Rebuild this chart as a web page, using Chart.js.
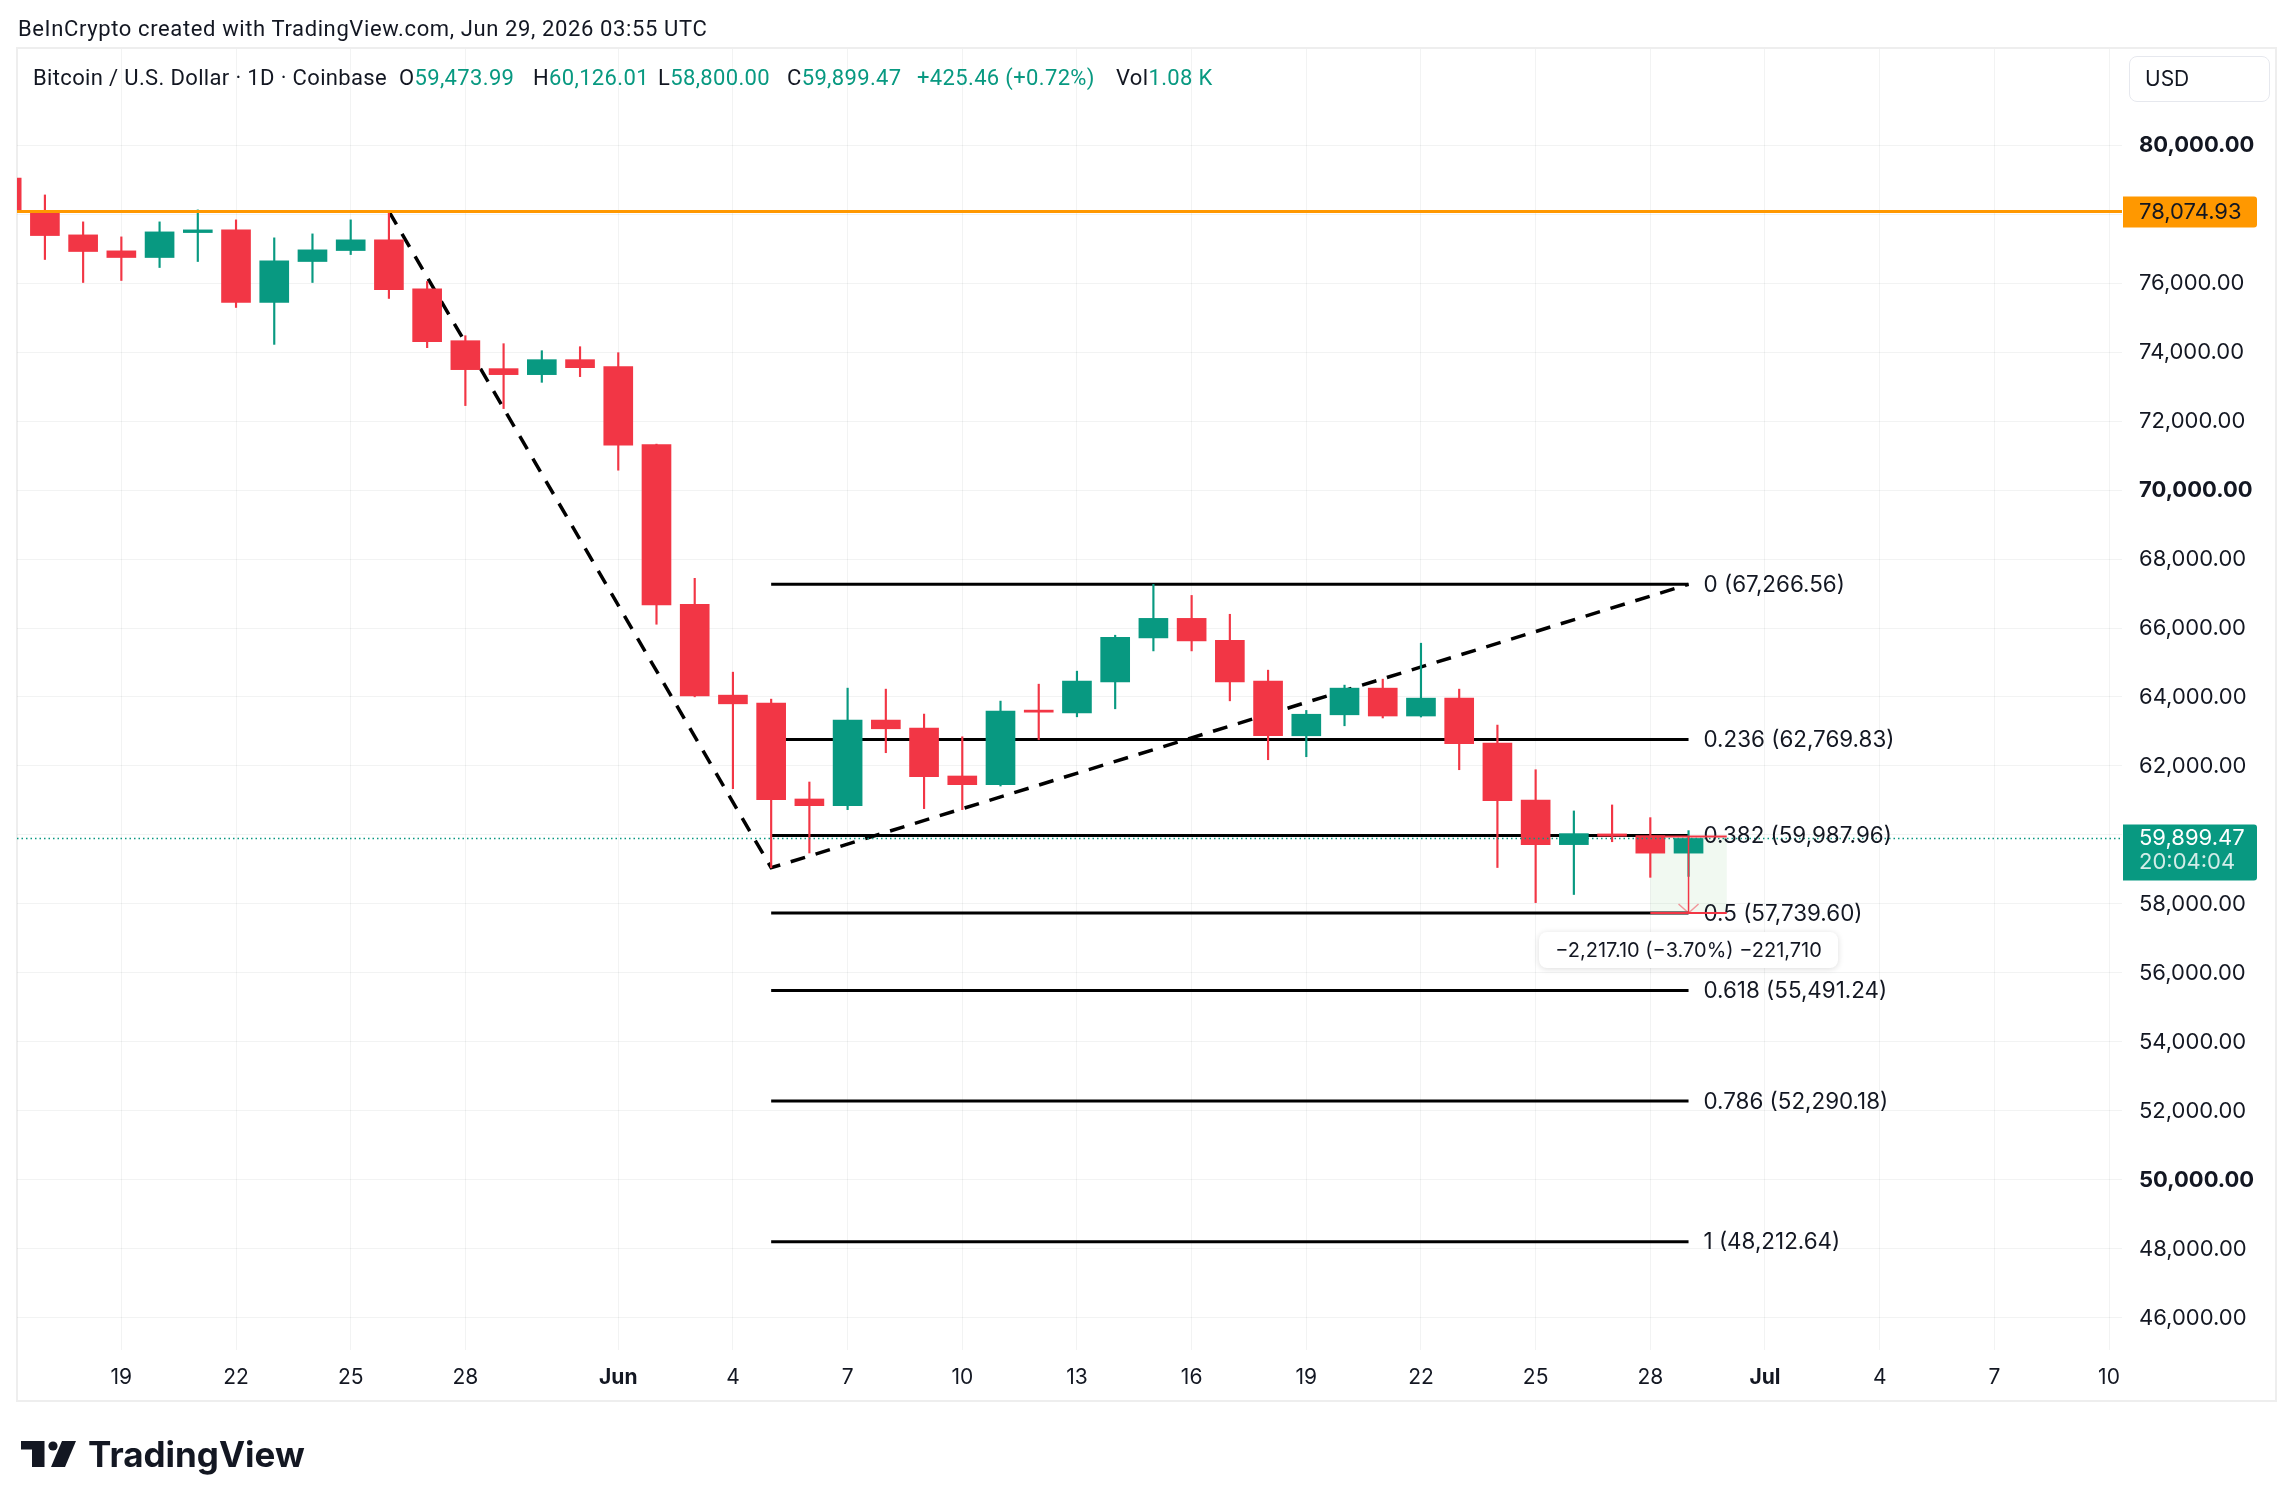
<!DOCTYPE html>
<html>
<head>
<meta charset="utf-8">
<title>Bitcoin / U.S. Dollar · 1D · Coinbase</title>
<script src="https://cdn.jsdelivr.net/npm/chart.js@4.4.1/dist/chart.umd.min.js"></script>
<style>
  html, body { margin: 0; padding: 0; background: #fff; }
  body { position: relative; width: 2294px; height: 1509px; overflow: hidden; color: #131722; font-family: Roboto, sans-serif; }
  #frame { position: absolute; left: 16px; top: 47px; width: 2261px; height: 1355px; box-sizing: border-box; border: 2px solid #eeeeee; }
  #c { position: absolute; left: 0; top: 0; }
  .txt { position: absolute; white-space: pre; font-size: 22px; line-height: 22px; letter-spacing: 0.35px; }
  .head { letter-spacing: 0.62px; }
  .up { color: #089981; }
  #usd { position: absolute; left: 2129px; top: 56px; width: 141px; height: 46px; box-sizing: border-box;
         border: 1px solid #e6e8ee; border-radius: 8px; font: 21px Inter, sans-serif; line-height: 44px; padding-left: 15px; }
  #logo { position: absolute; left: 21px; top: 1441px; }
  #logotext { position: absolute; left: 88px; top: 1437px; font: 700 35px Inter, sans-serif; line-height: 35px; color: #131722; }
</style>
</head>
<body>
<div id="frame"></div>
<canvas id="c" width="2294" height="1509" style="width:2294px;height:1509px"></canvas>

<div class="txt head" style="left:18px;top:18px">BeInCrypto created with TradingView.com, Jun 29, 2026 03:55 UTC</div>
<div class="txt" style="left:33px;top:67px">Bitcoin / U.S. Dollar · 1D · Coinbase</div>
<div class="txt" style="left:399px;top:67px">O<span class="up">59,473.99</span></div>
<div class="txt" style="left:533px;top:67px">H<span class="up">60,126.01</span></div>
<div class="txt" style="left:658px;top:67px">L<span class="up">58,800.00</span></div>
<div class="txt" style="left:787px;top:67px">C<span class="up">59,899.47</span></div>
<div class="txt up" style="left:917px;top:67px">+425.46 (+0.72%)</div>
<div class="txt" style="left:1116px;top:67px">Vol<span class="up">1.08 K</span></div>
<div id="usd">USD</div>

<svg id="logo" width="56" height="27" viewBox="0 0 56 27">
  <path d="M0 0 H23.5 V26 H11 V8.5 H0 Z" fill="#131722"/>
  <circle cx="32" cy="5" r="4.6" fill="#131722"/>
  <path d="M41 0 H55 L44 26 H30 Z" fill="#131722"/>
</svg>
<div id="logotext">TradingView</div>

<script>
// ------------------------------------------------------------
// BTC/USD diario (Coinbase) — velas + Fibonacci + dibujos
// ------------------------------------------------------------

const dates = [
  '2026-05-16', '2026-05-17', '2026-05-18', '2026-05-19', '2026-05-20', '2026-05-21', '2026-05-22',
  '2026-05-23', '2026-05-24', '2026-05-25', '2026-05-26', '2026-05-27', '2026-05-28', '2026-05-29',
  '2026-05-30', '2026-05-31', '2026-06-01', '2026-06-02', '2026-06-03', '2026-06-04', '2026-06-05',
  '2026-06-06', '2026-06-07', '2026-06-08', '2026-06-09', '2026-06-10', '2026-06-11', '2026-06-12',
  '2026-06-13', '2026-06-14', '2026-06-15', '2026-06-16', '2026-06-17', '2026-06-18', '2026-06-19',
  '2026-06-20', '2026-06-21', '2026-06-22', '2026-06-23', '2026-06-24', '2026-06-25', '2026-06-26',
  '2026-06-27', '2026-06-28', '2026-06-29'
];
const opens = [
  79040, 78090, 77395, 76932, 76739, 77462, 77540,
  75436, 76623, 76941, 77251, 75833, 74328, 73518,
  73344, 73778, 73575, 71318, 66688, 64054, 63822,
  61044, 60850, 63331, 63099, 61710, 61458, 63620,
  63542, 64436, 65713, 66279, 65646, 64459, 62876,
  63484, 64257, 63449, 63967, 62665, 61015, 59721,
  60031, 59982, 59473.99
];
const highs = [
  79200, 78553, 77772, 77337, 77772, 78119, 77830,
  77309, 77424, 77830, 78075, 76044, 74472, 74241,
  74038, 74154, 73980, 71330, 67440, 64720, 63938,
  61536, 64257, 64228, 63505, 62847, 63881, 64372,
  64749, 65791, 67266, 66944, 66398, 64778, 63611,
  64344, 64517, 65559, 64228, 63186, 61892, 60697,
  60871, 60503, 60126.01
];
const lows = [
  77900, 76681, 76015, 76073, 76449, 76623, 75291,
  74221, 76015, 76825, 75552, 74125, 72447, 72360,
  73121, 73286, 70574, 66109, 64005, 61343, 59050,
  59478, 60735, 62385, 60764, 60735, 61420, 62761,
  63426, 63658, 65336, 65336, 63889, 62182, 62269,
  63166, 63392, 63420, 61892, 59057, 58040, 58275,
  59805, 58773, 58800.00
];
const closes = [
  78090, 77375, 76913, 76739, 77482, 77540, 75436,
  76643, 76961, 77251, 75804, 74299, 73489, 73344,
  73778, 73546, 71298, 66667, 64034, 63802, 61024,
  60850, 63331, 63079, 61690, 61458, 63591, 63560,
  64459, 65733, 66279, 65626, 64436, 62876, 63500,
  64257, 63449, 63967, 62645, 60992, 59721, 60040,
  59964, 59474, 59899.47
];

const tickDates = [
  '2026-05-19', '2026-05-22', '2026-05-25', '2026-05-28', '2026-06-01', '2026-06-04',
  '2026-06-07', '2026-06-10', '2026-06-13', '2026-06-16', '2026-06-19', '2026-06-22',
  '2026-06-25', '2026-06-28', '2026-07-01', '2026-07-04', '2026-07-07', '2026-07-10'
];
const tickLabels = ['19', '22', '25', '28', 'Jun', '4', '7', '10', '13', '16', '19', '22', '25', '28', 'Jul', '4', '7', '10'];
const monthLabels = ['Jun', 'Jul'];
const priceTicks = [46000, 48000, 50000, 52000, 54000, 56000, 58000, 60000, 62000, 64000,
                    66000, 68000, 70000, 72000, 74000, 76000, 78000, 80000];

// Retroceso de Fibonacci
const fibRatios = [0, 0.236, 0.382, 0.5, 0.618, 0.786, 1];
const fibPrices = [67266.56, 62769.83, 59987.96, 57739.60, 55491.24, 52290.18, 48212.64];
const fibFrom = '2026-06-05';
const fibTo = '2026-06-29';

// línea punteada del swing
const swingDates = ['2026-05-26', '2026-06-05', '2026-06-29'];
const swingPrices = [78074.93, 59050, 67266.56];

const resistance = 78074.93;
const lastPrice = 59899.47;
const lastTimer = '20:04:04';

// herramienta de medición
const measureFrom = '2026-06-28';
const measureTo = '2026-06-30';
const measureArrow = '2026-06-29';
const measureTop = 59956.70;
const measureBottom = 57739.60;
const measureText = '−2,217.10 (−3.70%) −221,710';

// ------------------------------------------------------------

const red = '#F23645';
const green = '#089981';
const orange = '#FF9800';
const textColor = '#131722';
const gridColor = 'rgba(42, 46, 57, 0.06)';
const axisFont = 'Inter, sans-serif';

const base = Date.UTC(2026, 4, 19);
const dayOf = (s) => (Date.parse(s + 'T00:00:00Z') - base) / 86400000;
const fmt = (v) => v.toLocaleString('en-US', { minimumFractionDigits: 2, maximumFractionDigits: 2 });

const X_MIN = -2.73, X_MAX = 52.34;
const Y_MIN = 45072, Y_MAX = 82783;

const days = dates.map(dayOf);
const candleColors = closes.map((c, i) => (c >= opens[i] ? green : red));

const lineDs = (data, color, width, dash, order) => ({
  type: 'line', data, borderColor: color, borderWidth: width, borderDash: dash || [],
  pointRadius: 0, fill: false, tension: 0, order
});

const datasets = [
  {
    type: 'bar', label: 'wicks', order: 6, grouped: false, barThickness: 1.5,
    data: days.map((d, i) => ({ x: d, y: [lows[i], highs[i]] })),
    backgroundColor: candleColors, borderWidth: 0
  },
  {
    type: 'bar', label: 'bodies', order: 5, grouped: false, barThickness: 29,
    data: days.map((d, i) => ({ x: d, y: [opens[i], closes[i]] })),
    backgroundColor: candleColors, borderWidth: 0
  },
  lineDs(swingDates.map((d, i) => ({ x: dayOf(d), y: swingPrices[i] })), '#000', 3.5, [15, 11], 8),
  ...fibPrices.map((p) => lineDs([{ x: dayOf(fibFrom), y: p }, { x: dayOf(fibTo), y: p }], '#000', 3, null, 9)),
  lineDs([{ x: X_MIN, y: resistance }, { x: X_MAX, y: resistance }], orange, 3, null, 2),
  lineDs([{ x: X_MIN, y: lastPrice }, { x: X_MAX, y: lastPrice }], green, 1.5, [1.5, 3], 1)
];

const overlay = {
  id: 'overlay',
  beforeDatasetsDraw(chart) {
    const { ctx, scales: { x, y } } = chart;
    const x0 = x.getPixelForValue(dayOf(measureFrom));
    const x1 = x.getPixelForValue(dayOf(measureTo));
    const yt = y.getPixelForValue(measureTop);
    const yb = y.getPixelForValue(measureBottom);
    ctx.save();
    ctx.fillStyle = 'rgba(76, 175, 80, 0.08)';
    ctx.fillRect(x0, yt, x1 - x0, yb - yt);
    ctx.restore();
  },
  afterDatasetsDraw(chart) {
    const { ctx, scales: { x, y } } = chart;
    ctx.save();

    // etiquetas de Fibonacci
    ctx.font = '22.4px ' + axisFont;
    ctx.fillStyle = textColor;
    ctx.textAlign = 'left';
    ctx.textBaseline = 'middle';
    const fx = x.getPixelForValue(dayOf(fibTo)) + 15;
    fibRatios.forEach((r, i) => {
      ctx.fillText(r + ' (' + fmt(fibPrices[i]) + ')', fx, y.getPixelForValue(fibPrices[i]) + 1);
    });

    // medición
    const x0 = x.getPixelForValue(dayOf(measureFrom));
    const x1 = x.getPixelForValue(dayOf(measureTo));
    const xa = x.getPixelForValue(dayOf(measureArrow));
    const yt = y.getPixelForValue(measureTop);
    const yb = y.getPixelForValue(measureBottom);
    ctx.strokeStyle = red;
    ctx.lineWidth = 2;
    ctx.beginPath();
    ctx.moveTo(x0, yt); ctx.lineTo(x1, yt);
    ctx.moveTo(x0, yb); ctx.lineTo(x1, yb);
    ctx.stroke();
    ctx.lineWidth = 1.5;
    ctx.beginPath();
    ctx.moveTo(xa, yt); ctx.lineTo(xa, yb);
    ctx.stroke();
    ctx.strokeStyle = 'rgba(242, 54, 69, 0.5)';
    ctx.beginPath();
    ctx.moveTo(xa - 10, yb - 9); ctx.lineTo(xa, yb); ctx.lineTo(xa + 10, yb - 9);
    ctx.stroke();

    const bw = 299, bh = 36, bx = xa - bw / 2, by = yb + 19;
    ctx.shadowColor = 'rgba(0, 0, 0, 0.14)';
    ctx.shadowBlur = 6;
    ctx.shadowOffsetY = 1;
    ctx.fillStyle = '#fff';
    ctx.beginPath();
    ctx.roundRect(bx, by, bw, bh, 8);
    ctx.fill();
    ctx.shadowColor = 'transparent';
    ctx.fillStyle = textColor;
    ctx.font = '20px ' + axisFont;
    ctx.textAlign = 'center';
    ctx.fillText(measureText, xa, by + bh / 2 + 1);

    // etiquetas sobre el eje de precios
    const ax = chart.chartArea.right + 1;
    const yr = y.getPixelForValue(resistance);
    ctx.fillStyle = orange;
    ctx.beginPath();
    ctx.roundRect(ax, yr - 15, 134, 31, [0, 3, 3, 0]);
    ctx.fill();
    ctx.font = '22px ' + axisFont;
    ctx.textAlign = 'left';
    ctx.fillStyle = textColor;
    ctx.fillText(fmt(resistance), ax + 16, yr + 1);

    const yl = y.getPixelForValue(lastPrice);
    ctx.fillStyle = green;
    ctx.beginPath();
    ctx.roundRect(ax, yl - 14, 134, 56, [0, 3, 3, 0]);
    ctx.fill();
    ctx.fillStyle = '#fff';
    ctx.fillText(fmt(lastPrice), ax + 16, yl);
    ctx.fillStyle = 'rgba(255, 255, 255, 0.82)';
    ctx.fillText(lastTimer, ax + 16, yl + 24);

    ctx.restore();
  }
};

new Chart(document.getElementById('c'), {
  type: 'bar',
  data: { datasets },
  options: {
    responsive: false,
    animation: false,
    devicePixelRatio: 1,
    events: [],
    layout: { autoPadding: false, padding: { left: 17, top: 49, right: 18, bottom: 109 } },
    plugins: { legend: { display: false }, tooltip: { enabled: false } },
    scales: {
      x: {
        type: 'linear', min: X_MIN, max: X_MAX, offset: false,
        grid: { color: gridColor, drawTicks: false, offset: false },
        border: { display: false },
        afterBuildTicks: (s) => { s.ticks = tickDates.map((d) => ({ value: dayOf(d) })); },
        afterFit: (s) => { s.height = 50; },
        ticks: {
          autoSkip: false, maxRotation: 0, padding: 15, color: textColor,
          font: (c) => ({ family: axisFont, size: 21, weight: monthLabels.includes(tickLabels[c.index]) ? 'bold' : 'normal' }),
          callback: (v, i) => tickLabels[i]
        }
      },
      y: {
        position: 'right', min: Y_MIN, max: Y_MAX,
        grid: { color: gridColor, drawTicks: false },
        border: { display: false },
        afterBuildTicks: (s) => { s.ticks = priceTicks.map((v) => ({ value: v })); },
        afterFit: (s) => { s.width = 154; },
        ticks: {
          padding: 17, color: textColor,
          font: (c) => ({ family: axisFont, size: 22, weight: c.tick && c.tick.value % 10000 === 0 ? 'bold' : 'normal' }),
          callback: (v) => fmt(v)
        }
      }
    }
  },
  plugins: [overlay]
});
</script>
</body>
</html>
